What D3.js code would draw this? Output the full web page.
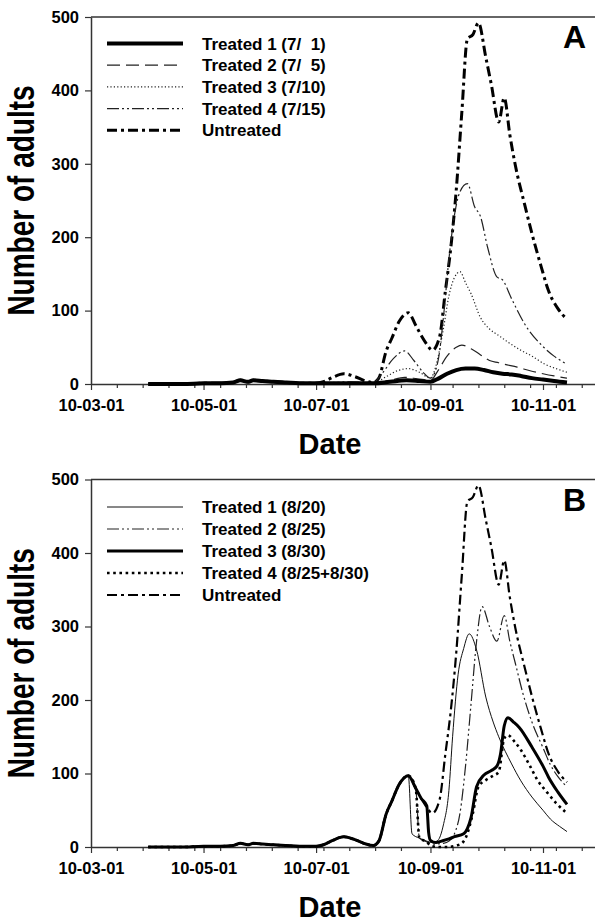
<!DOCTYPE html>
<html>
<head>
<meta charset="utf-8">
<script src="https://cdn.jsdelivr.net/npm/d3@7"></script>
<style>
  html, body { margin: 0; padding: 0; background: #fff; }
  svg { display: block; font-family: "Liberation Sans", Arial, sans-serif; }
</style>
</head>
<body>
<div id="chart"></div>
<script>
// ---- data (dates are 2010) ----
const Y_TICKS = [0, 100, 200, 300, 400, 500];
const X_MAJOR = ['03-01', '05-01', '07-01', '09-01', '11-01'];

const NAMES_A = ['Treated 1 (7/  1)', 'Treated 2 (7/  5)', 'Treated 3 (7/10)', 'Treated 4 (7/15)', 'Untreated'];
const NAMES_B = ['Treated 1 (8/20)', 'Treated 2 (8/25)', 'Treated 3 (8/30)', 'Treated 4 (8/25+8/30)', 'Untreated'];

// common to every series before treatments start
const EARLY = [['04-01',0],['04-10',0],['04-20',0],['05-01',1],['05-10',1],['05-17',2],['05-21',5],['05-25',3],
  ['05-28',5],['06-02',4],['06-08',3],['06-15',2],['06-22',1],['07-01',1]];
// untreated, July to 20 Aug (shared by the panel B treatments)
const SUMMER = [['07-05',3],['07-10',9],['07-16',14],['07-22',10],['07-28',4],['08-01',2],['08-04',8],['08-08',45],
  ['08-11',62],['08-15',85],['08-20',97]];
const UNT_LATE = [['08-24',80],['08-27',66],['08-30',54],['09-02',46],['09-06',65],['09-09',125],['09-12',185],
  ['09-15',265],['09-18',370],['09-21',470],['09-24',476],['09-27',492],['10-01',445],['10-04',408],['10-08',357],
  ['10-11',390],['10-14',340],['10-17',298],['10-22',245],['10-26',205],['10-31',160],['11-04',127],['11-09',103],['11-14',88]];
const UNTREATED = EARLY.concat(SUMMER, UNT_LATE);

const A_T1 = EARLY.concat([['07-10',1],['07-20',1],['08-01',1],['08-10',3],['08-19',5],['08-26',4],['09-01',3],['09-05',7],
  ['09-10',14],['09-15',19],['09-20',21],['09-25',21],['09-30',19],['10-05',16],['10-10',14],['10-15',13],['10-20',11],
  ['10-26',8],['11-01',6],['11-07',4],['11-14',2]]);
const A_T2 = EARLY.concat([['07-10',1],['07-20',1],['08-01',1],['08-10',5],['08-18',9],['08-25',7],['09-01',5],['09-05',18],
  ['09-10',38],['09-15',50],['09-18',53],['09-23',48],['09-28',40],['10-03',32],['10-08',29],['10-11',27],['10-18',23],
  ['10-25',18],['11-01',14],['11-07',11],['11-14',8]]);
const A_T3 = EARLY.concat([['07-10',2],['07-20',2],['08-01',1],['08-08',10],['08-14',18],['08-20',21],['08-26',16],['09-01',8],
  ['09-04',25],['09-08',75],['09-11',120],['09-14',145],['09-17',153],['09-20',138],['09-23',123],['09-28',91],['10-03',75],
  ['10-08',66],['10-13',57],['10-20',46],['10-26',38],['11-02',27],['11-08',21],['11-14',16]]);
const A_T4 = EARLY.concat([['07-10',2],['07-20',3],['08-01',2],['08-06',15],['08-12',35],['08-18',45],['08-23',32],['08-28',16],
  ['09-01',8],['09-05',30],['09-08',90],['09-11',170],['09-14',230],['09-17',262],['09-21',273],['09-25',241],['09-28',229],
  ['10-02',186],['10-07',146],['10-10',142],['10-15',116],['10-22',82],['11-01',51],['11-07',38],['11-14',27]]);

const B_T1 = EARLY.concat(SUMMER, [['08-22',18],['08-26',12],['08-30',8],['09-02',6],['09-05',9],['09-08',30],['09-11',77],
  ['09-13',150],['09-16',235],['09-19',270],['09-22',290],['09-26',268],['10-01',204],['10-05',170],['10-08',150],['10-15',113],
  ['10-20',90],['10-26',68],['11-01',50],['11-05',38],['11-10',28],['11-14',21]]);
const B_T2 = EARLY.concat(SUMMER, [['08-24',80],['08-26',12],['08-30',7],['09-03',4],['09-08',5],['09-11',8],['09-14',18],
  ['09-17',46],['09-20',110],['09-23',195],['09-26',280],['09-29',327],['10-03',300],['10-07',280],['10-11',315],['10-14',280],
  ['10-17',250],['10-21',210],['10-26',170],['11-01',135],['11-05',112],['11-09',96],['11-14',82]]);
const B_T3 = EARLY.concat(SUMMER, [['08-24',80],['08-27',66],['08-30',56],['08-31',20],['09-01',9],['09-04',6],['09-07',8],
  ['09-11',11],['09-14',14],['09-19',18],['09-21',25],['09-23',40],['09-26',82],['09-30',98],['10-04',104],['10-07',110],
  ['10-09',127],['10-11',165],['10-13',176],['10-16',170],['10-19',163],['10-26',136],['11-01',110],['11-04',95],['11-09',75],['11-14',58]]);
const B_T4 = EARLY.concat(SUMMER, [['08-24',80],['08-26',12],['08-30',7],['09-01',2],['09-05',0],['09-10',0],['09-15',2],
  ['09-18',5],['09-20',12],['09-24',46],['09-27',82],['10-01',91],['10-05',97],['10-08',102],['10-11',148],['10-13',152],
  ['10-17',142],['10-20',132],['10-25',110],['10-29',91],['11-03',75],['11-08',60],['11-13',48]]);

// ---- drawing ----
const W = 595, H = 922;
const parse = d3.utcParse('%Y-%m-%d');
const day = s => parse('2010-' + s);

const svg = d3.select('#chart').append('svg').attr('width', W).attr('height', H).attr('viewBox', `0 0 ${W} ${H}`);
svg.append('rect').attr('width', W).attr('height', H).attr('fill', '#fff');

const x0 = day('03-01');
const x = d3.scaleUtc().domain([x0, day('12-01')]).range([91, 91 + 275 * 1.8449]);

// line looks (solid thick, long dash, dots, dash-dot-dot, dash-dot)
const STYLE_A = [
  { w: 4, dash: null, c: '#000' },
  { w: 1.2, dash: '13,6', c: '#222' },
  { w: 1.2, dash: '1.2,2.2', c: '#222' },
  { w: 1.2, dash: '12,3,2,3,2,3', c: '#222' },
  { w: 3, dash: '10,4,3,4', c: '#000' },
];
const STYLE_B = [
  { w: 1, dash: null, c: '#111' },
  { w: 1.2, dash: '12,3,2,3,2,3', c: '#222' },
  { w: 3, dash: null, c: '#000' },
  { w: 2.6, dash: '2.6,3.6', c: '#000' },
  { w: 2.2, dash: '10,4,3,4', c: '#000' },
];

const PANELS = [
  { tag: 'A', top: 17, zero: 384, names: NAMES_A, series: [A_T1, A_T2, A_T3, A_T4, UNTREATED], style: STYLE_A,
    order: [4, 3, 2, 1, 0], legY: 43.5, legStep: 21.7 },
  { tag: 'B', top: 479.5, zero: 847, names: NAMES_B, series: [B_T1, B_T2, B_T3, B_T4, UNTREATED], style: STYLE_B,
    order: [4, 1, 0, 3, 2], legY: 507, legStep: 22 },
];

const minor = d3.range(14, 275, 14).map(d => d3.utcDay.offset(x0, d))
  .filter(d => X_MAJOR.every(m => Math.abs(x(day(m)) - x(d)) > 5));

PANELS.forEach(P => {
  const y = d3.scaleLinear().domain([0, 500]).range([P.zero, P.top]);
  const g = svg.append('g');

  // frame top line
  g.append('line').attr('x1', 91).attr('x2', W).attr('y1', P.top).attr('y2', P.top)
    .attr('stroke', '#333').attr('stroke-width', 1.5);

  // axes
  const ya = g.append('g').attr('transform', 'translate(91,0)')
    .call(d3.axisLeft(y).tickValues(Y_TICKS).tickSize(6).tickSizeOuter(0).tickPadding(6));
  const xa = g.append('g').attr('transform', `translate(0,${P.zero})`)
    .call(d3.axisBottom(x).tickValues(X_MAJOR.map(day)).tickFormat(d3.utcFormat('%y-%m-%d'))
      .tickSize(6).tickSizeOuter(0).tickPadding(9));
  g.append('g').attr('transform', `translate(0,${P.zero})`)
    .call(d3.axisBottom(x).tickValues(minor).tickFormat('').tickSize(4).tickSizeOuter(0))
    .call(a => a.select('.domain').remove());
  g.selectAll('.domain').attr('stroke', '#333').attr('stroke-width', 1.5);
  g.selectAll('.tick line').attr('stroke', '#333').attr('stroke-width', 1.2);
  [ya, xa].forEach(a => a.selectAll('text').attr('font-size', 16.5).attr('font-weight', 'bold')
    .attr('fill', '#000').attr('font-family', '"Liberation Sans", Arial, sans-serif'));

  // titles (the y title is drawn taller across its line, as in the source figure)
  g.append('text').attr('transform', `translate(34,${(P.top + P.zero) / 2}) rotate(-90) scale(1,1.3)`)
    .attr('text-anchor', 'middle').attr('font-size', 28).attr('font-weight', 'bold').text('Number of adults');
  g.append('text').attr('x', 330).attr('y', P.zero + 70).attr('text-anchor', 'middle')
    .attr('font-size', 29).attr('font-weight', 'bold').text('Date');
  g.append('text').attr('x', 586).attr('y', P.top + 31).attr('text-anchor', 'end')
    .attr('font-size', 32).attr('font-weight', 'bold').text(P.tag);

  // series
  const line = d3.line().x(d => x(day(d[0]))).y(d => y(d[1])).curve(d3.curveMonotoneX);
  P.order.forEach(i => {
    const s = P.style[i];
    g.append('path').datum(P.series[i]).attr('d', line).attr('fill', 'none')
      .attr('stroke', s.c).attr('stroke-width', s.w).attr('stroke-dasharray', s.dash)
      .attr('stroke-linejoin', 'round');
  });

  // legend
  P.names.forEach((n, i) => {
    const s = P.style[i], ly = P.legY + i * P.legStep;
    g.append('line').attr('x1', 107).attr('x2', 183).attr('y1', ly).attr('y2', ly)
      .attr('stroke', s.c).attr('stroke-width', s.w).attr('stroke-dasharray', s.dash);
    g.append('text').attr('x', 202).attr('y', ly + 6).attr('font-size', 17).attr('font-weight', 'bold')
      .style('white-space', 'pre').text(n);
  });
});
</script>
</body>
</html>
